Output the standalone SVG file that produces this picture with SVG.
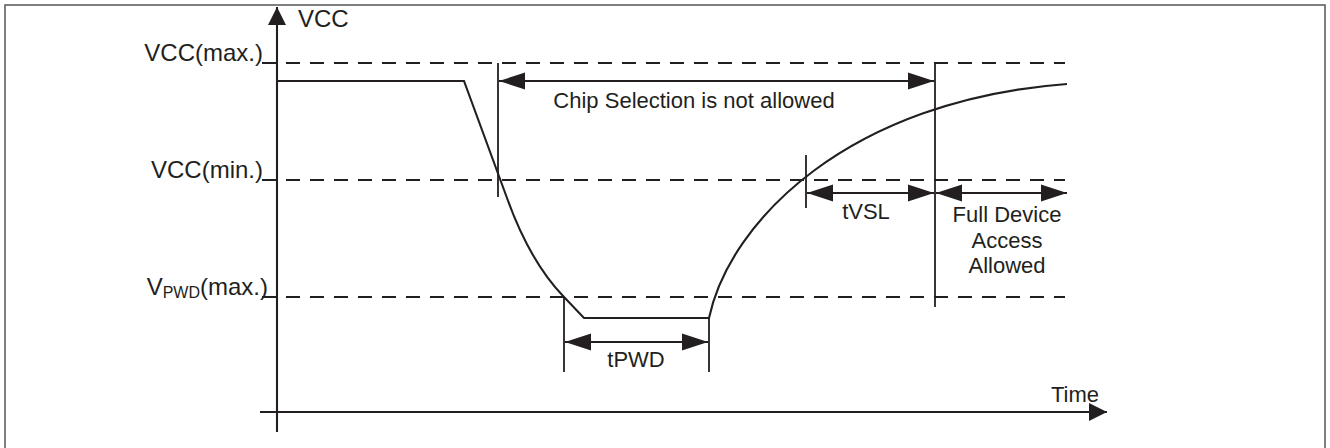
<svg xmlns="http://www.w3.org/2000/svg" width="1330" height="448" viewBox="0 0 1330 448">
<style>
.ln{stroke:#231f20;stroke-width:2.1;fill:none}
.thin{stroke:#231f20;stroke-width:1.8;fill:none}
.dash{stroke:#231f20;stroke-width:2.2;fill:none;stroke-dasharray:14 10}
.t{font-family:"Liberation Sans",Arial,sans-serif;font-size:22px;fill:#231f20}
.big{font-size:24px}
.s{font-size:16px}
</style>
<defs>
<marker id="ah" markerUnits="userSpaceOnUse" markerWidth="26" markerHeight="18" refX="26" refY="8.5" orient="auto-start-reverse" viewBox="0 0 26 17">
<path d="M0,0 L26,8.5 L0,17 z" fill="#231f20"/>
</marker>
<marker id="ax" markerUnits="userSpaceOnUse" markerWidth="18" markerHeight="18" refX="17" refY="8.5" orient="auto" viewBox="0 0 17 17">
<path d="M0,0 L17,8.5 L0,17 z" fill="#231f20"/>
</marker>
</defs>
<rect x="5" y="5" width="1320" height="450" fill="#fff" stroke="#555" stroke-width="1.5"/>
<g id="axes">
<line class="ln" x1="277" y1="432" x2="277" y2="7" marker-end="url(#ax)"/>
<line class="ln" x1="260" y1="412" x2="1107" y2="412" marker-end="url(#ax)"/>
<text class="t big" x="298" y="27">VCC</text>
<text class="t" x="1051" y="402">Time</text>
</g>
<g id="levels">
<line class="dash" x1="262" y1="63" x2="1065" y2="63"/>
<line class="dash" x1="262" y1="180" x2="1065" y2="180"/>
<line class="dash" x1="262" y1="297" x2="1065" y2="297"/>
<text class="t big" x="263" y="61" text-anchor="end">VCC(max.)</text>
<text class="t big" x="263" y="178" text-anchor="end">VCC(min.)</text>
<text class="t big" x="268" y="295" text-anchor="end">V<tspan class="s" dy="3">PWD</tspan><tspan dy="-3">(max.)</tspan></text>
</g>
<g id="signal">
<path class="ln" d="M277,81 L464,81 L507,198 Q530,262 564,297 L584,318 L709,318 C730,220 850,100 1067,84"/>
</g>
<g id="connectors">
<line class="thin" x1="498" y1="63" x2="498" y2="197"/>
<line class="thin" x1="935" y1="63" x2="935" y2="307"/>
<line class="thin" x1="806" y1="155" x2="806" y2="208"/>
<line class="thin" x1="564" y1="297" x2="564" y2="372"/>
<line class="thin" x1="709" y1="318" x2="709" y2="372"/>
<line class="ln" x1="499" y1="81" x2="934" y2="81" marker-start="url(#ah)" marker-end="url(#ah)"/>
<line class="ln" x1="807" y1="193" x2="934" y2="193" marker-start="url(#ah)" marker-end="url(#ah)"/>
<line class="ln" x1="936" y1="193" x2="1067" y2="193" marker-start="url(#ah)" marker-end="url(#ah)"/>
<line class="ln" x1="565" y1="342" x2="708" y2="342" marker-start="url(#ah)" marker-end="url(#ah)"/>
</g>
<g id="labels">
<text class="t" x="694" y="108" text-anchor="middle">Chip Selection is not allowed</text>
<text class="t" x="866" y="219" text-anchor="middle">tVSL</text>
<text class="t" x="1007" y="222" text-anchor="middle">Full Device</text>
<text class="t" x="1007" y="248" text-anchor="middle">Access</text>
<text class="t" x="1007" y="273" text-anchor="middle">Allowed</text>
<text class="t" x="636" y="367" text-anchor="middle">tPWD</text>
</g>
</svg>
